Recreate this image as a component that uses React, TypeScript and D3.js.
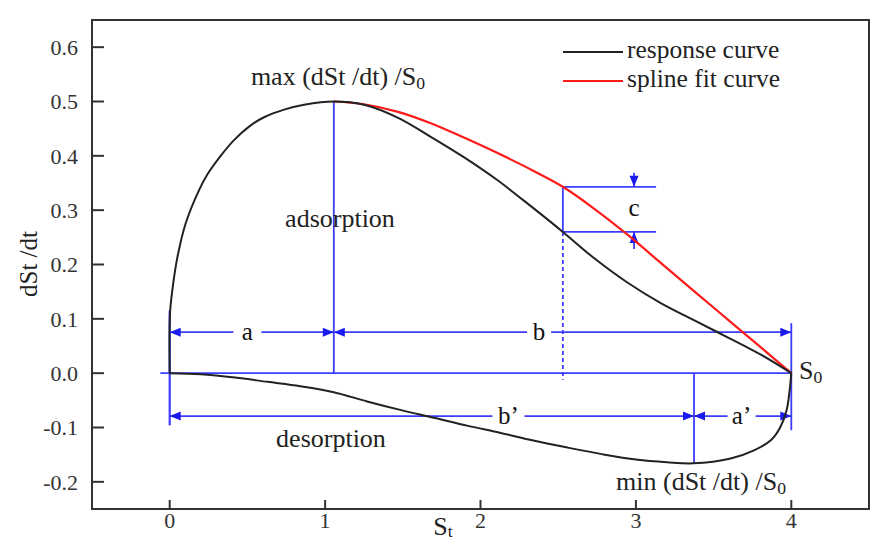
import React from "react";
import * as d3 from "d3";

// response curve, adsorption branch (St, dSt/dt)
const adsorption: [number, number][] = [
  [0, 0], [0.002, 0.11], [0.017, 0.153], [0.05, 0.214], [0.103, 0.276], [0.189, 0.337],
  [0.243, 0.366], [0.328, 0.4], [0.414, 0.429], [0.521, 0.456], [0.607, 0.471], [0.736, 0.485],
  [0.865, 0.494], [1.056, 0.5],
  [1.25, 0.494], [1.47, 0.47], [1.68, 0.435], [1.89, 0.398], [2.11, 0.355], [2.33, 0.306],
  [2.53, 0.26], [2.73, 0.212], [2.95, 0.166], [3.16, 0.129], [3.37, 0.098], [3.59, 0.066],
  [3.81, 0.033], [4, 0],
];

// response curve, desorption branch
const desorption: [number, number][] = [
  [0, 0], [0.2, -0.002], [0.42, -0.008], [0.63, -0.016], [0.84, -0.024], [1.056, -0.035],
  [1.27, -0.052], [1.49, -0.068], [1.7, -0.082], [1.92, -0.097], [2.13, -0.11], [2.34, -0.124],
  [2.56, -0.137], [2.78, -0.149], [3.0, -0.159], [3.2, -0.164], [3.37, -0.166], [3.61, -0.157],
  [3.76, -0.142], [3.87, -0.123], [3.93, -0.099], [3.97, -0.068], [3.99, -0.03], [4, 0],
];

// spline fit from the peak to S0
const splineFit: [number, number][] = [
  [1.056, 0.5], [1.25, 0.495], [1.47, 0.481], [1.68, 0.46], [1.89, 0.434], [2.11, 0.405],
  [2.33, 0.374], [2.53, 0.343], [2.73, 0.303], [2.95, 0.254], [3.16, 0.203], [3.37, 0.152],
  [3.59, 0.099], [3.81, 0.046], [4, 0],
];

const xTicks = [0, 1, 2, 3, 4];
const yTicks = [-0.2, -0.1, 0, 0.1, 0.2, 0.3, 0.4, 0.5, 0.6];

// annotation anchors (data units)
const peak = { x: 1.056, y: 0.5 };
const trough = { x: 3.374, y: -0.166 };
const s0 = 4;
const cutX = 2.53;
const cTop = 0.343;
const cBot = 0.26;
const cArrowX = 2.988;
const upperDimY = 0.0755;
const lowerDimY = -0.079;

const FONT = "'Liberation Serif', 'Times New Roman', serif";
const BLUE = "#3c3cff";
const ARROW = "#1a1aee";

export default function App() {
  const W = 873, H = 542;
  const x = d3.scaleLinear().domain([-0.5, 4.5]).range([92, 869]);
  const y = d3.scaleLinear().domain([-0.25, 0.65]).range([509, 20]);

  const line = d3.line<[number, number]>()
    .x((d) => x(d[0]))
    .y((d) => y(d[1]))
    .curve(d3.curveCatmullRom.alpha(0.5));

  // arrow head with tip at (tx, ty) pointing in dir
  const arrow = (tx: number, ty: number, dir: "l" | "r" | "u" | "d", key: string) => {
    const L = 11, h = 4.5;
    let pts;
    if (dir === "l") pts = [[tx, ty], [tx + L, ty - h], [tx + L, ty + h]];
    else if (dir === "r") pts = [[tx, ty], [tx - L, ty - h], [tx - L, ty + h]];
    else if (dir === "d") pts = [[tx, ty], [tx - h, ty - L], [tx + h, ty - L]];
    else pts = [[tx, ty], [tx - h, ty + L], [tx + h, ty + L]];
    return <polygon key={key} points={pts.map((p) => p.join(",")).join(" ")} fill={ARROW} />;
  };

  // horizontal dimension line with a gap for its label
  const dimLine = (x0: number, x1: number, yv: number, labelX: number, gap: number, label: string, key: string) => {
    const py = y(yv);
    const lx = x(labelX);
    return (
      <g key={key}>
        <line x1={x(x0)} x2={lx - gap} y1={py} y2={py} stroke={BLUE} strokeWidth={1.8} />
        <line x1={lx + gap} x2={x(x1)} y1={py} y2={py} stroke={BLUE} strokeWidth={1.8} />
        {arrow(x(x0), py, "l", key + "l")}
        {arrow(x(x1), py, "r", key + "r")}
        <text x={lx} y={py + 8} textAnchor="middle" fontSize={25} fontFamily={FONT} fill="#111">{label}</text>
      </g>
    );
  };

  const sub = (base: string, s: string) => (
    <>
      {base}
      <tspan fontSize="0.68em" dy="0.2em">{s}</tspan>
    </>
  );

  return (
    <svg width={W} height={H} style={{ position: "absolute", left: 0, top: 0, background: "#fff" }}>
      {/* frame */}
      <rect x={92} y={20} width={777} height={489} fill="none" stroke="#333" strokeWidth={2} />

      {/* y ticks */}
      {yTicks.map((t) => (
        <g key={"y" + t}>
          <line x1={92} x2={104} y1={y(t)} y2={y(t)} stroke="#333" strokeWidth={2} />
          <text x={78} y={y(t)} dy="0.35em" textAnchor="end" fontSize={22} fontFamily={FONT} fill="#333">
            {t.toFixed(1)}
          </text>
        </g>
      ))}
      {/* x ticks */}
      {xTicks.map((t) => (
        <g key={"x" + t}>
          <line x1={x(t)} x2={x(t)} y1={509} y2={500} stroke="#333" strokeWidth={2} />
          <text x={x(t)} y={528} textAnchor="middle" fontSize={22} fontFamily={FONT} fill="#333">{t}</text>
        </g>
      ))}

      {/* axis titles */}
      <text transform="translate(37,264) rotate(-90)" textAnchor="middle" fontSize={25} fontFamily={FONT} fill="#222">
        dSt /dt
      </text>
      <text x={443} y={535} textAnchor="middle" fontSize={26} fontFamily={FONT} fill="#222">
        S<tspan fontSize="0.68em" dy="0.1em">t</tspan>
      </text>

      {/* blue construction lines */}
      <line x1={x(-0.06)} x2={x(s0)} y1={y(0)} y2={y(0)} stroke={BLUE} strokeWidth={1.8} />
      <line x1={x(0)} x2={x(0)} y1={y(0.115)} y2={y(-0.096)} stroke={BLUE} strokeWidth={2.2} />
      <line x1={x(peak.x)} x2={x(peak.x)} y1={y(peak.y)} y2={y(0)} stroke={BLUE} strokeWidth={1.8} />
      <line x1={x(s0)} x2={x(s0)} y1={y(0.092)} y2={y(-0.105)} stroke={BLUE} strokeWidth={1.8} />
      <line x1={x(trough.x)} x2={x(trough.x)} y1={y(0)} y2={y(trough.y)} stroke={BLUE} strokeWidth={1.8} />
      <line x1={x(cutX)} x2={x(cutX)} y1={y(cTop)} y2={y(cBot)} stroke={BLUE} strokeWidth={1.8} />
      <line x1={x(cutX)} x2={x(cutX)} y1={y(cBot)} y2={y(-0.012)} stroke={BLUE} strokeWidth={1.8} strokeDasharray="4,3" />
      <line x1={x(cutX)} x2={x(3.13)} y1={y(cTop)} y2={y(cTop)} stroke={BLUE} strokeWidth={1.8} />
      <line x1={x(cutX)} x2={x(3.13)} y1={y(cBot)} y2={y(cBot)} stroke={BLUE} strokeWidth={1.8} />
      <line x1={x(cArrowX)} x2={x(cArrowX)} y1={y(cTop) - 14} y2={y(cTop)} stroke={BLUE} strokeWidth={1.8} />
      <line x1={x(cArrowX)} x2={x(cArrowX)} y1={y(cBot)} y2={y(cBot) + 17} stroke={BLUE} strokeWidth={1.8} />
      {arrow(x(cArrowX), y(cTop), "d", "cd")}
      {arrow(x(cArrowX), y(cBot), "u", "cu")}
      <text x={x(cArrowX)} y={y((cTop + cBot) / 2) + 7} textAnchor="middle" fontSize={25} fontFamily={FONT} fill="#111">c</text>

      {dimLine(0, peak.x, upperDimY, 0.5, 14, "a", "a")}
      {dimLine(peak.x, s0, upperDimY, 2.377, 12, "b", "b")}
      {dimLine(0, trough.x, lowerDimY, 2.18, 16, "b\u2019", "bp")}
      {dimLine(trough.x, s0, lowerDimY, 3.68, 14, "a\u2019", "ap")}

      {/* curves */}
      <path d={line(splineFit) || ""} fill="none" stroke="#ff1a1a" strokeWidth={2.2} />
      <path d={line(adsorption) || ""} fill="none" stroke="#222" strokeWidth={2} />
      <path d={line(desorption) || ""} fill="none" stroke="#222" strokeWidth={2} />

      {/* annotation text */}
      <text x={338} y={85} textAnchor="middle" fontSize={26} fontFamily={FONT} fill="#222">
        max (dSt /dt) /{sub("S", "0")}
      </text>
      <text x={340} y={227} textAnchor="middle" fontSize={26} fontFamily={FONT} fill="#222">adsorption</text>
      <text x={331} y={447} textAnchor="middle" fontSize={26} fontFamily={FONT} fill="#222">desorption</text>
      <text x={701} y={490} textAnchor="middle" fontSize={26} fontFamily={FONT} fill="#222">
        min (dSt /dt) /{sub("S", "0")}
      </text>
      <text x={799} y={379} fontSize={26} fontFamily={FONT} fill="#222">{sub("S", "0")}</text>

      {/* legend */}
      <line x1={563} x2={623} y1={52} y2={52} stroke="#222" strokeWidth={2} />
      <line x1={563} x2={623} y1={81} y2={81} stroke="#ff1a1a" strokeWidth={2} />
      <text x={627} y={58} fontSize={25.5} fontFamily={FONT} fill="#222">response curve</text>
      <text x={627} y={87} fontSize={25.5} fontFamily={FONT} fill="#222">spline fit curve</text>
    </svg>
  );
}
